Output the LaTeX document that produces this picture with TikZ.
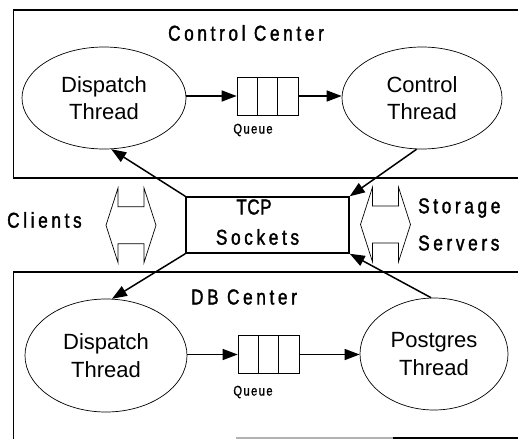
\documentclass[tikz,border=0pt]{standalone}
\usepackage{fontspec}
\setmainfont{Liberation Sans}
% narrow, widely spaced faces for the labels
\newfontfamily\gul[FakeStretch=0.8,LetterSpace=17,FakeBold=1.6]{Liberation Sans}
\newfontfamily\gultight[FakeStretch=0.8,LetterSpace=2,FakeBold=1.6]{Liberation Sans}
\newfontfamily\gulsmall[FakeStretch=0.8,LetterSpace=10,FakeBold=1.2]{Liberation Sans}
\usetikzlibrary{arrows.meta,shapes.geometric,calc}

\begin{document}
\begin{tikzpicture}[x=1pt,y=-1pt,
  frame/.style={line width=1.7pt},
  thread/.style={ellipse, draw, line width=0.7pt, inner sep=0pt, align=center,
    font=\fontsize{22}{27.5}\selectfont},
  queue/.style={rectangle, draw, line width=0.7pt, minimum width=61pt,
    minimum height=38pt, inner sep=0pt,
    path picture={
      \draw[line width=0.7pt]
        ($(path picture bounding box.north west)!1/3!(path picture bounding box.north east)$) --
        ($(path picture bounding box.south west)!1/3!(path picture bounding box.south east)$)
        ($(path picture bounding box.north west)!2/3!(path picture bounding box.north east)$) --
        ($(path picture bounding box.south west)!2/3!(path picture bounding box.south east)$);
    }},
  lbl/.style={inner sep=0pt, font=\gul\fontsize{21.5}{25}\selectfont},
  tlbl/.style={inner sep=0pt, font=\gultight\fontsize{21.5}{25}\selectfont},
  qlbl/.style={inner sep=0pt, font=\gulsmall\fontsize{14}{16}\selectfont},
  flow/.style={line width=1.5pt, -{Triangle[length=15pt,width=11pt]}},
  dblarrow/.pic={
    \draw[line width=0.7pt] (-13,-37.3) -- (-13,-18.5) -- (13,-18.5) -- (13,-37.3)
      -- (25,0) -- (13,37.3) -- (13,18.5) -- (-13,18.5) -- (-13,37.3) -- (-25,0) -- cycle;
  }]
\useasboundingbox (0,0) rectangle (518,439);

% --- Control Center -------------------------------------------------------
\draw[frame] (518,10) -- (13.5,10) -- (13.5,178) -- (518,178);
\node[lbl] (cc) at (246,33) {Control Center};
\node[thread, minimum width=164pt, minimum height=102pt] (disp1) at (104,98) {Dispatch\\Thread};
\node[thread, minimum width=160pt, minimum height=102pt] (ctrl) at (422,98) {Control\\Thread};
\node[queue] (q1) at (267.5,96) {};
\node[qlbl] (ql1) at (253,130) {Queue};
\draw[flow] (disp1.east |- q1.west) -- (q1.west);
\draw[flow] (q1.east) -- (ctrl.west |- q1.east);

% --- DB Center ------------------------------------------------------------
\draw[frame] (518,272) -- (13.5,272) -- (13.5,439);
\draw[line width=1.2pt, black!30] (236,438) -- (393,438);
\draw[frame] (393,438) -- (518,438);
\node[lbl] (dbc) at (244,297) {DB Center};
\node[thread, minimum width=162pt, minimum height=113pt] (disp2) at (106,355.5) {Dispatch\\Thread};
\node[thread, minimum width=148pt, minimum height=112pt] (pg) at (434,354) {Postgres\\Thread};
\node[queue] (q2) at (268.5,354.5) {};
\node[qlbl] (ql2) at (253,392) {Queue};
\draw[flow] (disp2.east |- q2.west) -- (q2.west);
\draw[flow] (q2.east) -- (pg.west |- q2.east);

% --- TCP sockets and the outside world -----------------------------------
\node[draw, line width=1.5pt, minimum width=163pt, minimum height=56pt, inner sep=0pt] (tcp) at (267.5,225) {};
\node[tlbl] (tcpa) at (254,207) {TCP};
\node[lbl] (tcpb) at (257.5,237) {Sockets};

\draw[flow] (tcp.north west) -- (disp1.-82);
\draw[flow] (ctrl.-96) -- (tcp.north east);
\draw[flow] (tcp.south west) -- (disp2.84);
\draw[flow] (pg.93) -- (tcp.south east);

\pic at (131,225.3) {dblarrow};
\pic at (385.5,224.5) {dblarrow};
\node[lbl, anchor=west] (cl) at (7,220) {Clients};
\node[lbl, anchor=west] (st) at (418,208) {Storage};
\node[lbl, anchor=west] (sv) at (418,243) {Servers};
\end{tikzpicture}
\end{document}
